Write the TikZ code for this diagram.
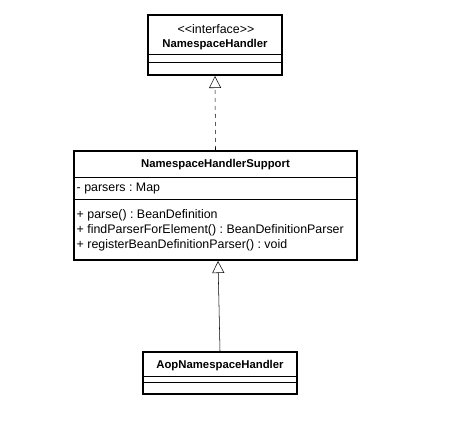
\documentclass[tikz,border=0pt]{standalone}
\usepackage{fontspec}
\setmainfont{Liberation Sans}
\usetikzlibrary{arrows.meta}
\frenchspacing

\begin{document}
\begin{tikzpicture}[x=0.75pt, y=-0.75pt, font=\fontsize{9.3}{10}\selectfont,
        classbox/.style={shape=rectangle, draw, line width=1.5pt, inner sep=0pt},
        classname/.style={anchor=center, font=\fontsize{8.5}{10}\selectfont\bfseries},
        realize/.style={dashed, -{Triangle[open, length=9pt, width=9pt]}},
        inherit/.style={-{Triangle[open, length=9pt, width=9pt]}}]
        	% Bounding box:
        	\useasboundingbox[fill=white] (0, 0) rectangle (476, 427);
        	% Classes:
        	\node[classbox, minimum width=100.5pt, minimum height=45pt](NH) at (215, 45){};
        	\node[anchor=center] at (216, 29){\textless\kern0pt\textless\kern0pt interface\kern0pt\textgreater\kern0pt\textgreater};
        	\node[classname] at (215, 45){NamespaceHandler};
        	\draw[line width=0.75pt] (NH.west |- 0, 55) -- (NH.east |- 0, 55);
        	\draw[line width=0.75pt] (NH.west |- 0, 63) -- (NH.east |- 0, 63);
        	\node[classbox, minimum width=212.25pt, minimum height=81.75pt](NHS) at (215.5, 205.5){};
        	\node[classname] at (215.5, 165){NamespaceHandlerSupport};
        	\draw[line width=0.75pt] (NHS.west |- 0, 178) -- (NHS.east |- 0, 178);
        	\node[anchor=west] at (72, 189){- parsers : Map};
        	\draw[line width=0.75pt] (NHS.west |- 0, 200) -- (NHS.east |- 0, 200);
        	\node[anchor=west] at (72, 215){+ parse() : BeanDefinition};
        	\node[anchor=west] at (72, 230){+ findParserForElement() : BeanDefinitionParser};
        	\node[anchor=west] at (72, 245){+ registerBeanDefinitionParser() : void};
        	\node[classbox, minimum width=115.5pt, minimum height=31.5pt](AOP) at (220, 373){};
        	\node[classname] at (220, 366){AopNamespaceHandler};
        	\draw[line width=0.75pt] (AOP.west |- 0, 377) -- (AOP.east |- 0, 377);
        	\draw[line width=0.75pt] (AOP.west |- 0, 383) -- (AOP.east |- 0, 383);
        	% Relations:
        	\draw[realize] (NHS.north) -- (NH.south);
        	\draw[inherit] (AOP.north) -- ([xshift=-1.5pt]NHS.south -| AOP.north);
        \end{tikzpicture}
\end{document}
